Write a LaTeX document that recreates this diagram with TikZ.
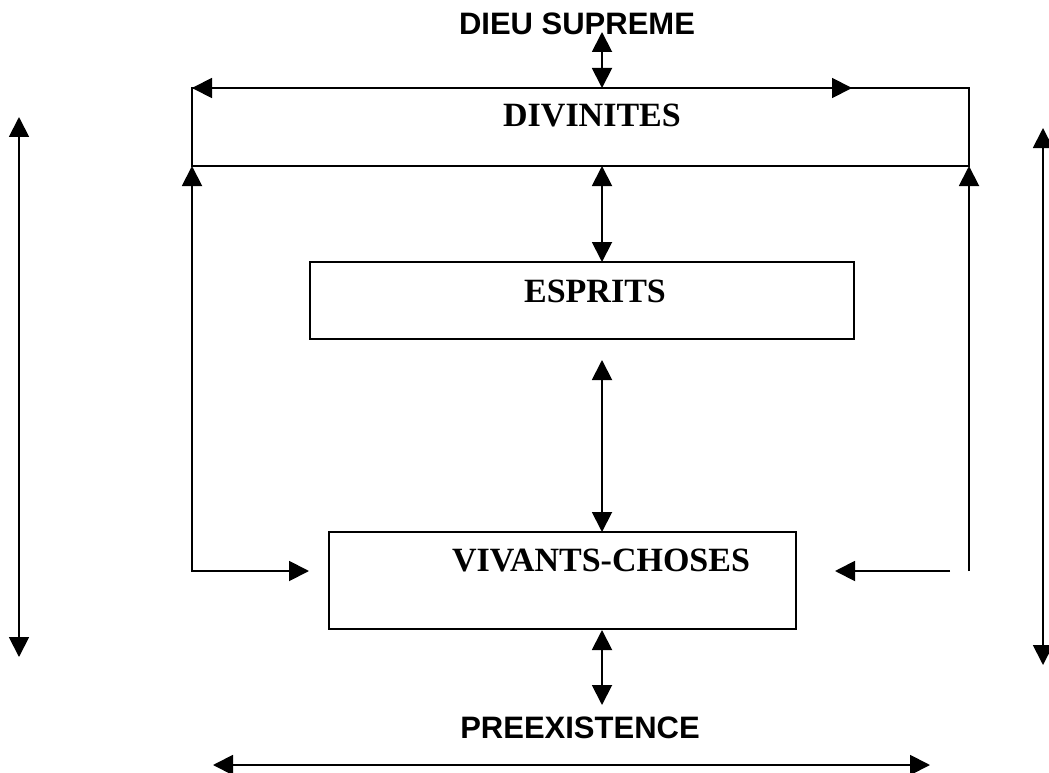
\documentclass[tikz,border=0pt]{standalone}
\usepackage{fontspec}
\setmainfont{Liberation Serif}
\setsansfont{Liberation Sans}
\usetikzlibrary{arrows.meta,calc}

\tikzset{
  tri/.tip={Triangle[length=20pt,width=20pt]},
  link/.style={line width=1.9pt},
  dbl/.style={link,{tri}-{tri}},
  one/.style={link,-{tri}},
  box/.style={draw,line width=1.8pt,rectangle,inner sep=0pt,outer sep=0pt},
  serifname/.style={inner sep=0pt,anchor=base,font=\bfseries\fontsize{34}{40}\selectfont},
  sansname/.style={inner sep=0pt,anchor=base,font=\sffamily\bfseries\fontsize{31}{36}\selectfont},
}

\begin{document}
\begin{tikzpicture}[x=1pt,y=-1pt]
\useasboundingbox (0,0) rectangle (1049,773);

% the three levels
\node[box,minimum width=777pt,minimum height=78pt] (div) at (580.5,127) {};
\node[box,minimum width=544pt,minimum height=77pt] (esp) at (582,300.5) {};
\node[box,minimum width=467pt,minimum height=97pt] (viv) at (562.5,580.5) {};

% texts
\node[sansname]  (dieu) at (577,35)  {DIEU SUPREME};
\node[serifname] (tdiv) at (592,127) {DIVINITES};
\node[serifname] (tesp) at (595,302) {ESPRITS};
\node[serifname] (tviv) at (601,571) {VIVANTS-CHOSES};
\node[sansname]  (pre)  at (580,738) {PREEXISTENCE};

% reference points of the connectors
\coordinate (ax)  at (602,0);
\coordinate (dtop) at (602,32);
\coordinate (tr)  at (852,88);
\coordinate (espout) at (602,360);
\coordinate (vivout) at (602,630);
\coordinate (preend) at (602,705);
\coordinate (lt)  at (309,571);
\coordinate (rb)  at (969,571);
\coordinate (rs)  at (950,571);
\coordinate (rt)  at (835,571);
\coordinate (l1)  at (19,117);
\coordinate (l2)  at (19,657);
\coordinate (r1)  at (1043,128);
\coordinate (r2)  at (1043,665);
\coordinate (b1)  at (213,765);
\coordinate (b2)  at (930,765);

% central axis
\draw[dbl] (dtop) -- (div.north -| ax);
\draw[dbl] (div.south -| ax) -- (esp.north -| ax);
\draw[dbl] (espout) -- (viv.north -| ax);
\draw[dbl] (vivout) -- (preend);

% arrows along the top edge of the divinities
\draw[one] (div.north -| ax) -- (div.north west);
\draw[one] (div.north -| ax) -- (tr);

% side links between divinities and the living
\draw[dbl] (div.south west) |- (lt);
\draw[one] (rb) -- (div.south east);
\draw[one] (rs) -- (rt);

% outer frame arrows
\draw[dbl] (l1) -- (l2);
\draw[dbl] (r1) -- (r2);
\draw[dbl] (b1) -- (b2);
\end{tikzpicture}
\end{document}
